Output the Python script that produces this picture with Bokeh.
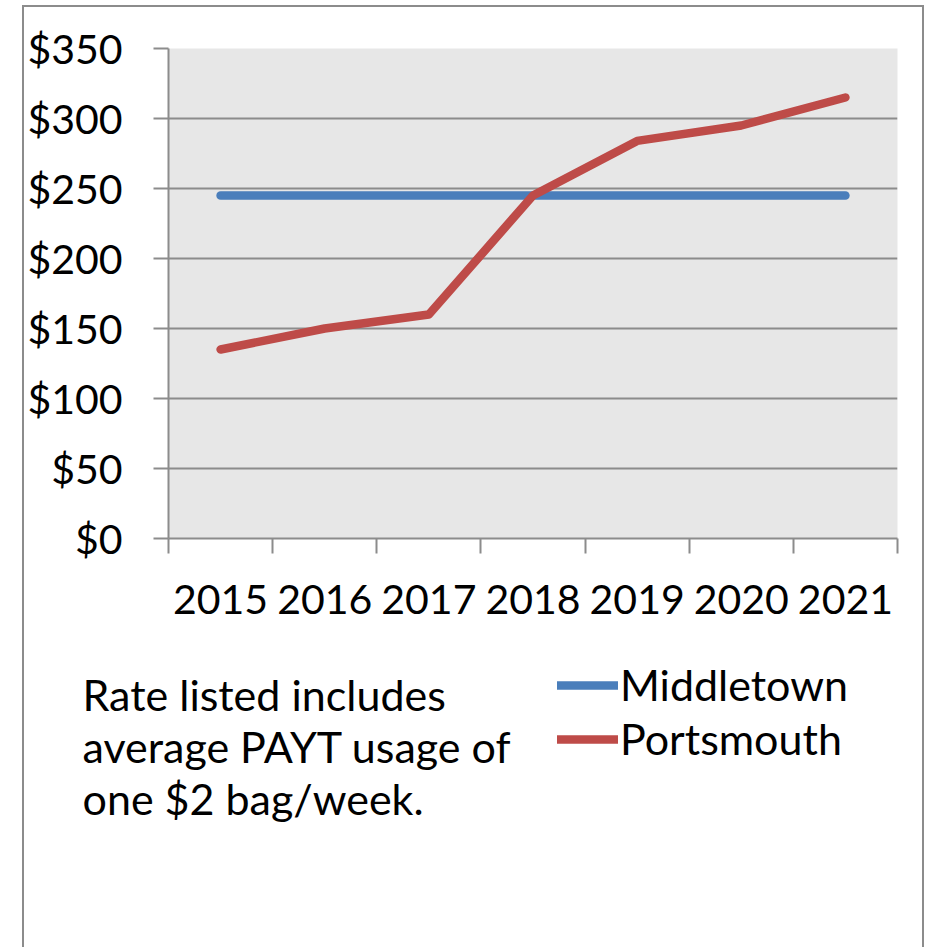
from bokeh.plotting import figure
from bokeh.layouts import column
from bokeh.models import (Range1d, FixedTicker, NumeralTickFormatter, Label,
                          Legend, LegendItem)
from bokeh.embed import file_html
from bokeh.resources import INLINE

# ---- data ----
years = ["2015", "2016", "2017", "2018", "2019", "2020", "2021"]
middletown = [245, 245, 245, 245, 245, 245, 245]
portsmouth = [135, 150, 160, 245, 284, 295, 315]
y_ticks = [0, 50, 100, 150, 200, 250, 300, 350]
note_lines = ["Rate listed includes", "average PAYT usage of", "one $2 bag/week."]
series_names = ["Middletown", "Portsmouth"]

FONT = "Lato"
FS = "41px"
FS_TXT = "43px"
GRID = "#8C8C8C"
BLUE = "#4A7EBB"
RED = "#BE4B48"
BORDER = "2px solid #8C8C8C"

xs = [i + 0.5 for i in range(len(years))]

# page geometry
CX0, CY0 = 24, 7          # content origin (inside the outer border)
CW = 898                  # content width
TOP_H = 633
BOT_H = 307
FL, FR, FT, FB = 168, 897, 48, 538   # plot frame in page pixels

top = figure(width=CW, height=TOP_H, output_backend="svg", toolbar_location=None,
             x_range=Range1d(0, len(years)), y_range=Range1d(0, 350),
             min_border_left=FL - CX0, min_border_right=CX0 + CW - FR,
             min_border_top=FT - CY0, min_border_bottom=CY0 + TOP_H - FB)
top.frame_align = False
top.background_fill_color = "#E7E7E7"
top.border_fill_color = "white"
top.outline_line_color = None

xa = top.xaxis[0]
xa.ticker = FixedTicker(ticks=xs, minor_ticks=list(range(len(years) + 1)))
xa.major_label_overrides = {x: y for x, y in zip(xs, years)}
xa.major_tick_in = 0
xa.major_tick_out = 0
xa.minor_tick_in = 0
xa.minor_tick_out = 15
xa.minor_tick_line_color = GRID
xa.minor_tick_line_width = 2
xa.axis_line_color = GRID
xa.axis_line_width = 2
xa.major_label_text_font = FONT
xa.major_label_text_font_size = FS
xa.major_label_text_color = "black"
xa.major_label_standoff = 31

ya = top.yaxis[0]
ya.ticker = FixedTicker(ticks=y_ticks)
ya.formatter = NumeralTickFormatter(format="$0")
ya.major_tick_in = 0
ya.major_tick_out = 15
ya.major_tick_line_color = GRID
ya.major_tick_line_width = 2
ya.minor_tick_line_color = None
ya.axis_line_color = GRID
ya.axis_line_width = 2
ya.major_label_text_font = FONT
ya.major_label_text_font_size = FS
ya.major_label_text_color = "black"
ya.major_label_standoff = 31

top.xgrid.grid_line_color = None
top.ygrid.ticker = FixedTicker(ticks=y_ticks)
top.ygrid.grid_line_color = GRID
top.ygrid.grid_line_width = 2

top.line(xs, middletown, line_width=8.5, line_color=BLUE, line_cap="round", line_join="round")
top.line(xs, portsmouth, line_width=8.5, line_color=RED, line_cap="round", line_join="round")

# ---- lower panel: note + legend ----
BY0 = CY0 + TOP_H
bot = figure(width=CW, height=BOT_H, output_backend="svg", toolbar_location=None,
             x_range=Range1d(0, CW), y_range=Range1d(BOT_H, 0),
             x_axis_location=None, y_axis_location=None,
             min_border=0, min_border_left=0, min_border_right=0,
             min_border_top=0, min_border_bottom=0)
bot.frame_align = False
bot.grid.visible = False
bot.outline_line_color = None
bot.background_fill_color = "white"
bot.border_fill_color = "white"

# legend renderers (a single off-view point, styled like the chart lines)
l1 = bot.line([-500], [-500], line_width=8.5, line_color=BLUE, line_cap="round")
l2 = bot.line([-500], [-500], line_width=8.5, line_color=RED, line_cap="round")
legend = Legend(items=[LegendItem(label=series_names[0], renderers=[l1]),
                       LegendItem(label=series_names[1], renderers=[l2])],
                location=(557 - CX0, (BY0 + BOT_H) - 764), orientation="vertical",
                glyph_width=61, glyph_height=40, label_standoff=2, spacing=3,
                padding=0, margin=0, border_line_color=None,
                background_fill_alpha=0,
                label_text_font=FONT, label_text_font_size=FS_TXT,
                label_text_color="black")
bot.add_layout(legend, "center")

baselines = [694, 746, 798]
for line, b in zip(note_lines, baselines):
    bot.add_layout(Label(x=82 - CX0, y=b - BY0, text=line, text_font=FONT,
                         text_font_size=FS_TXT, text_color="black",
                         text_baseline="alphabetic", text_align="left"))

layout = column(top, bot, spacing=0, margin=(5, 0, 0, 22),
                styles={"border-left": BORDER, "border-right": BORDER,
                        "border-top": BORDER, "border-bottom": "none"})

open("out.html", "w").write(file_html(layout, INLINE))
